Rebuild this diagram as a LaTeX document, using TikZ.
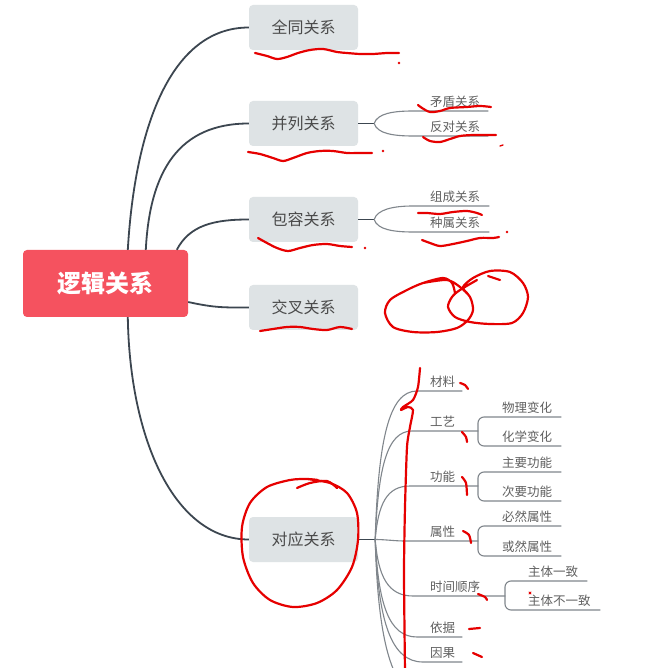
\documentclass[tikz,border=0pt]{standalone}
\usepackage{fontspec}
\newfontfamily\cjk{Noto Sans CJK SC}
\usetikzlibrary{calc}
\setlength{\parindent}{0pt}
\definecolor{rootred}{HTML}{F5525F}
\definecolor{boxgray}{HTML}{DEE3E5}
\definecolor{maintxt}{HTML}{4A4A4A}
\definecolor{mainline}{HTML}{3C4650}
\definecolor{sublinec}{HTML}{80868C}
\definecolor{subtxt}{HTML}{606060}
\definecolor{penred}{HTML}{E60000}
\begin{document}
\begin{tikzpicture}[x=1pt,y=-1pt,
  rootbox/.style={fill=rootred, rounded corners=4pt, minimum width=165pt, minimum height=67pt, text=white, font=\cjk\bfseries\fontsize{24}{24}\selectfont, inner sep=0pt},
  topicbox/.style={fill=boxgray, rounded corners=4pt, minimum width=109pt, minimum height=45pt, text=maintxt, font=\cjk\fontsize{16}{16}\selectfont, inner sep=0pt},
  leaf/.style={anchor=south west, text width=#1, align=left, inner xsep=0pt, inner ysep=3pt, text height=9pt, text depth=1pt, text=subtxt, font=\cjk\fontsize{12.5}{12.5}\selectfont},
  mainconn/.style={draw=mainline, line width=1.8pt},
  stemline/.style={draw=mainline, line width=1.5pt},
  subconn/.style={draw=sublinec, line width=1.1pt},
  pen/.style={draw=penred, line width=2.2pt, line cap=round, line join=round},
]
\fill[white] (0,0) rectangle (672,668);
\path[use as bounding box] (0,0) rectangle (672,668);

% main nodes
\node[rootbox] (root) at (105.5,283.5) {逻辑关系};
\node[topicbox] (b1) at (303.5,27.5) {全同关系};
\node[topicbox] (b2) at (303.5,123.5) {并列关系};
\node[topicbox] (b3) at (303.5,219.5) {包容关系};
\node[topicbox] (b4) at (303.5,307.5) {交叉关系};
\node[topicbox] (b5) at (303.5,539.5) {对应关系};

% sub nodes
\node[leaf=75pt] (m1) at (413,111) {\hspace*{17pt}矛盾关系};
\node[leaf=75pt] (m2) at (413,136) {\hspace*{17pt}反对关系};
\node[leaf=76pt] (z1) at (413,206) {\hspace*{17pt}组成关系};
\node[leaf=76pt] (z2) at (413,232) {\hspace*{17pt}种属关系};

\node[leaf=45pt] (c1) at (417,391) {\hspace*{13pt}材料};
\node[leaf=66pt] (c2) at (412,431) {\hspace*{18pt}工艺};
\node[leaf=68pt] (c3) at (410,486) {\hspace*{20pt}功能};
\node[leaf=73pt] (c4) at (405,541) {\hspace*{25pt}属性};
\node[leaf=92pt] (c5) at (413,596) {\hspace*{17pt}时间顺序};
\node[leaf=45pt] (c6) at (417,637) {\hspace*{13pt}依据};
\node[leaf=39pt] (c7) at (423,662) {\hspace*{7pt}因果};
\coordinate (c8) at (430,700);

\node[leaf=83pt] (p1) at (478,417) {\hspace*{24pt}物理变化};
\node[leaf=83pt] (p2) at (478,446) {\hspace*{24pt}化学变化};
\node[leaf=83pt] (g1) at (478,472) {\hspace*{24pt}主要功能};
\node[leaf=83pt] (g2) at (478,501) {\hspace*{24pt}次要功能};
\node[leaf=83pt] (s1) at (478,526) {\hspace*{24pt}必然属性};
\node[leaf=83pt] (s2) at (478,556) {\hspace*{24pt}或然属性};
\node[leaf=82pt] (t1) at (505,581) {\hspace*{23pt}主体一致};
\node[leaf=95pt] (t2) at (505,610) {\hspace*{23pt}主体不一致};

% main connectors
\draw[mainconn] ($(root.north west)+(105,0)$) .. controls +(7,-120) and +(-79,0) .. (b1.west);
\draw[mainconn] ($(root.north west)+(123,0)$) .. controls +(4,-80) and +(-69,0) .. (b2.west);
\draw[mainconn] ($(root.north west)+(154,0)$) .. controls +(13,-25) and +(-34,0) .. (b3.west);
\draw[mainconn] ($(root.east)+(0,18.5)$) .. controls +(27,6) and +(-24,0) .. (b4.west);
\draw[mainconn] ($(root.south west)+(105,0)$) .. controls +(2,123) and +(-74,0) .. (b5.west);

% 并列 / 包容 branches
\draw[stemline] (b2.east) -- ++(16,0);
\draw[subconn] ($(b2.east)+(16,0)$) .. controls +(3,-10) and +(-20,0) .. (m1.south west) -- (m1.south east);
\draw[subconn] ($(b2.east)+(16,0)$) .. controls +(3,10) and +(-20,0) .. (m2.south west) -- (m2.south east);
\draw[stemline] (b3.east) -- ++(16,0);
\draw[subconn] ($(b3.east)+(16,0)$) .. controls +(3,-10) and +(-20,0) .. (z1.south west) -- (z1.south east);
\draw[subconn] ($(b3.east)+(16,0)$) .. controls +(3,10) and +(-20,0) .. (z2.south west) -- (z2.south east);

% 对应 fan
\draw[stemline] (b5.east) -- ++(17,0);
\draw[subconn] ($(b5.east)+(17,0)$) .. controls +(3,-100) and +(-28,0) .. (c1.south west) -- (c1.south east);
\draw[subconn] ($(b5.east)+(17,0)$) .. controls +(3,-72) and +(-25,0) .. (c2.south west) -- (c2.south east);
\draw[subconn] ($(b5.east)+(17,0)$) .. controls +(3,-36) and +(-23,0) .. (c3.south west) -- (c3.south east);
\draw[subconn] ($(b5.east)+(17,0)$) .. controls +(10,0) and +(-10,0) .. (c4.south west) -- (c4.south east);
\draw[subconn] ($(b5.east)+(17,0)$) .. controls +(3,37) and +(-25,0) .. (c5.south west) -- (c5.south east);
\draw[subconn] ($(b5.east)+(17,0)$) .. controls +(3,65) and +(-28,0) .. (c6.south west) -- (c6.south east);
\draw[subconn] ($(b5.east)+(17,0)$) .. controls +(3,82) and +(-32,0) .. (c7.south west) -- (c7.south east);
\draw[subconn] ($(b5.east)+(17,0)$) .. controls +(3,107) and +(-37,0) .. (c8);

% brackets
\draw[subconn, rounded corners=6pt] (p1.south east) -- (p1.south west) -- (p2.south west) -- (p2.south east);
\draw[subconn, rounded corners=6pt] (g1.south east) -- (g1.south west) -- (g2.south west) -- (g2.south east);
\draw[subconn, rounded corners=6pt] (s1.south east) -- (s1.south west) -- (s2.south west) -- (s2.south east);
\draw[subconn, rounded corners=6pt] (t1.south east) -- (t1.south west) -- (t2.south west) -- (t2.south east);

% red pen annotations
\draw[pen] plot[smooth] coordinates {(255,53) (267,56) (277,59) (287,57) (298,53) (310,50) (323,49) (337,52) (347,53) (360,54) (373,54) (387,53) (399,53)};
\fill[penred] (399,63) circle (1.3);
\draw[pen] plot[smooth] coordinates {(248,152) (260,154) (273,158) (283,161) (293,158) (307,153) (320,151) (333,151) (347,153) (360,153) (372,153)};
\fill[penred] (383,151) circle (1.3);
\draw[pen] plot[smooth] coordinates {(418,105) (422,108) (430,112) (440,111) (450,108) (467,107) (480,106) (491,107)};
\draw[pen] plot[smooth] coordinates {(423,137) (430,141) (440,142) (450,139) (460,136) (473,135) (487,135) (496,135)};
\draw[pen, line width=1.3pt] (500,146) -- (503,145);
\draw[pen] plot[smooth] coordinates {(258,238) (267,243) (277,248) (288,251) (300,248) (313,245) (327,244) (340,246) (352,247)};
\fill[penred] (365,248) circle (1.3);
\draw[pen] plot[smooth] coordinates {(418,213) (427,213) (440,214) (453,212) (467,211) (477,213) (482,215)};
\draw[pen] plot[smooth] coordinates {(422,240) (430,243) (440,246) (453,244) (467,241) (480,238) (493,238) (499,237)};
\fill[penred] (507,232) circle (1.3);
\draw[pen] plot[smooth] coordinates {(260,331) (273,329) (287,327) (300,327) (313,329) (327,330) (340,327) (352,329)};
\draw[pen] plot[smooth] coordinates {(423,283) (447,280) (460,287) (470,297) (473,310) (468,320) (457,328) (437,332) (413,332) (393,327) (385,313) (390,300) (407,290) (423,283) (443,278) (452,283) (455,293)};
\draw[pen] plot[smooth] coordinates {(467,293) (463,287) (473,278) (490,271) (510,272) (523,283) (528,297) (523,313) (512,323) (490,324) (470,322) (455,317) (448,307) (452,297) (460,290) (477,280)};
\draw[pen] (488,276) -- (500,280);
\draw[pen] plot[smooth] coordinates {(307,479) (330,483) (347,493) (357,513) (358,540) (352,567) (337,590) (317,603) (293,607) (270,600) (253,583) (243,557) (242,527) (250,503) (267,487) (290,480) (307,479) (318,480)};
\draw[pen] plot[smooth] coordinates {(297,488) (310,483) (327,481) (337,488)};
\draw[pen] plot[smooth, tension=0.4] coordinates {(420,368) (418,387) (413,400) (403,407) (401,410) (408,407) (413,410) (410,427) (407,447) (405,507) (404,573) (405,672)};
\draw[pen] plot[smooth] coordinates {(460,383) (465,385) (468,389)};
\draw[pen] plot[smooth] coordinates {(462,432) (466,437) (467,442)};
\draw[pen] plot[smooth] coordinates {(462,477) (466,483) (467,495)};
\draw[pen] plot[smooth] coordinates {(463,531) (469,535) (471,543)};
\draw[pen] plot[smooth] coordinates {(478,594) (485,597) (487,600)};
\draw[pen] (469,629) -- (480,628);
\draw[pen] (473,653) -- (482,657);
\draw[pen, line width=0.8pt] (529,592) -- (531,594) (529,594) -- (531,592);
\end{tikzpicture}
\end{document}
